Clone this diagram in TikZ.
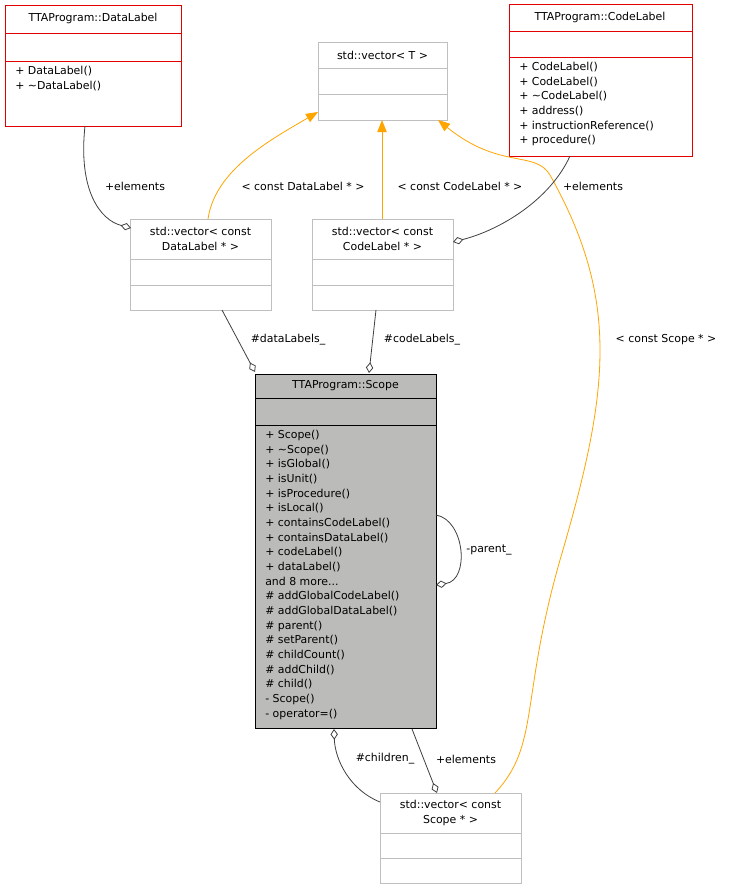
\documentclass[tikz,border=0pt]{standalone}
\usepackage{fontspec}
\setmainfont{DejaVu Sans}
\usetikzlibrary{arrows.meta}
\begin{document}
\begin{tikzpicture}[x=0.75pt,y=-0.75pt,
  box/.style={draw,anchor=north west,inner sep=0pt,line width=0.6pt},
  red/.style={box,draw={rgb,255:red,226;green,0;blue,0}},
  gray/.style={box,draw={rgb,255:red,191;green,191;blue,191}},
  txt/.style={font=\fontsize{8.2}{11}\selectfont,inner sep=0pt},
  inh/.style={draw={rgb,255:red,255;green,165;blue,0},-{Triangle[length=9pt,width=7pt,fill={rgb,255:red,255;green,165;blue,0}]},line width=0.6pt},
  agg/.style={draw={rgb,255:red,64;green,64;blue,64},-{Diamond[open,length=8pt,width=5.5pt]},line width=0.6pt},
  lbl/.style={txt,fill=white,inner sep=1pt}]
\useasboundingbox[fill=white] (0,0) rectangle (732,889);
% boxes
\node[red,minimum width=176*0.75pt,minimum height=121*0.75pt] (dl) at (5,5) {};
\draw[red] (5,33)--(181,33) (5,61)--(181,61);
\node[txt] (dlt) at (93,18) {TTAProgram::DataLabel};
\node[txt,anchor=north west,align=left] (dlm) at (15,66) {+ DataLabel()\\+ \textasciitilde DataLabel()};

\node[gray,minimum width=129*0.75pt,minimum height=78*0.75pt] (vt) at (318,42) {};
\draw[gray] (318,68)--(447,68) (318,94)--(447,94);
\node[txt] (vtt) at (382.5,55) {std::vector< T >};

\node[red,minimum width=183*0.75pt,minimum height=152*0.75pt] (cl) at (509,4) {};
\draw[red] (509,31)--(692,31) (509,57)--(692,57);
\node[txt] (clt) at (600,17) {TTAProgram::CodeLabel};
\node[txt,anchor=north west,align=left] (clm) at (519,62) {+ CodeLabel()\\+ CodeLabel()\\+ \textasciitilde CodeLabel()\\+ address()\\+ instructionReference()\\+ procedure()};

\node[gray,minimum width=141*0.75pt,minimum height=91*0.75pt] (vd) at (130,219) {};
\draw[gray] (130,259)--(271,259) (130,285)--(271,285);
\node[txt,align=center] (vdt) at (200.5,239) {std::vector< const\\DataLabel * >};

\node[gray,minimum width=141*0.75pt,minimum height=91*0.75pt] (vc) at (312,219) {};
\draw[gray] (312,259)--(453,259) (312,285)--(453,285);
\node[txt,align=center] (vct) at (382.5,239) {std::vector< const\\CodeLabel * >};

\node[box,fill={rgb,255:red,187;green,188;blue,185},minimum width=181*0.75pt,minimum height=354*0.75pt] (sc) at (255,374) {};
\draw (255,398)--(436,398) (255,425)--(436,425);
\node[txt] (sct) at (345.5,386) {TTAProgram::Scope};
\node[txt,anchor=north west,align=left] (scm) at (265,430) {+ Scope()\\+ \textasciitilde Scope()\\+ isGlobal()\\+ isUnit()\\+ isProcedure()\\+ isLocal()\\+ containsCodeLabel()\\+ containsDataLabel()\\+ codeLabel()\\+ dataLabel()\\and 8 more...\\\# addGlobalCodeLabel()\\\# addGlobalDataLabel()\\\# parent()\\\# setParent()\\\# childCount()\\\# addChild()\\\# child()\\- Scope()\\- operator=()};

\node[gray,minimum width=141*0.75pt,minimum height=90*0.75pt] (vs) at (380,793) {};
\draw[gray] (380,833)--(521,833) (380,858)--(521,858);
\node[txt,align=center] (vst) at (450.5,813) {std::vector< const\\Scope * >};

% inheritance
\draw[inh] (208,219) .. controls (215,170) and (270,140) .. (318,112);
\node[lbl] at (303,186) {< const DataLabel * >};
\draw[inh] (382,219) -- (382,120);
\node[lbl] at (460,186) {< const CodeLabel * >};
\draw[inh] (495,793) .. controls (540,745) and (520,700) .. (560,560) .. controls (610,390) and (620,300) .. (550,175) .. controls (535,150) and (500,170) .. (438,120);
\node[lbl] at (666,340) {< const Scope * >};

% aggregation
\draw[agg] (85,126) .. controls (78,190) and (100,220) .. (131,228);
\node[lbl] at (135,186) {+elements};
\draw[agg] (570,156) .. controls (550,200) and (500,230) .. (453,242);
\node[lbl] at (593,186) {+elements};
\draw[agg] (222,310) -- (255,372);
\node[lbl] at (288,340) {\#dataLabels\_};
\draw[agg] (376,310) -- (369,373);
\node[lbl] at (422,340) {\#codeLabels\_};
\draw[agg] (436,515) .. controls (465,520) and (470,580) .. (436,585);
\node[lbl] at (489,550) {-parent\_};
\draw[agg] (380,802) .. controls (350,790) and (335,760) .. (334,729);
\node[lbl] at (385,759) {\#children\_};
\draw[agg] (412,729) -- (437,793);
\node[lbl] at (466,759) {+elements};
\end{tikzpicture}
\end{document}
